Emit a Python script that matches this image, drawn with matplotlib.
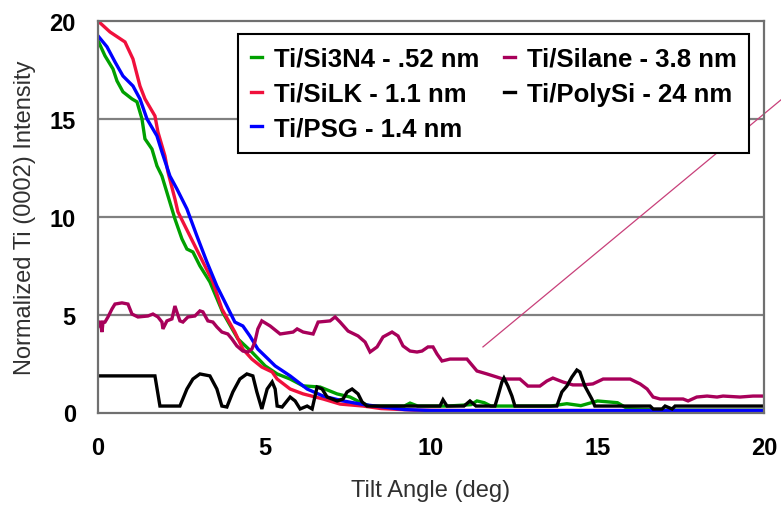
import matplotlib
matplotlib.use("Agg")
import matplotlib.pyplot as plt

# Tilt-angle scans, normalized Ti (0002) intensity
si3n4_x = [0, 0.21, 0.45, 0.57, 0.75, 1.02, 1.17, 1.32, 1.41, 1.62, 1.77, 1.92, 2.10, 2.31,
           2.52, 2.67, 2.85, 3.06, 3.36, 3.75, 4.20, 4.62, 5.02, 5.38, 5.77, 6.16, 6.67,
           7.18, 7.57, 7.9, 8.17, 8.6, 9.2, 9.37, 9.6, 10.5, 11.2, 11.38, 11.6, 11.8, 13.6,
           14.08, 14.5, 15.0, 15.6, 15.9, 17.0, 18.5, 20.0]
si3n4_y = [19.0, 18.22, 17.55, 16.94, 16.38, 16.02, 15.87, 15.0, 13.98, 13.46, 12.6, 12.08,
           11.07, 9.89, 8.87, 8.35, 8.20, 7.49, 6.67, 5.1, 3.76, 3.09, 2.38, 1.97, 1.71,
           1.36, 1.30, 0.95, 0.79, 0.5, 0.33, 0.33, 0.33, 0.48, 0.33, 0.33, 0.4, 0.59, 0.5,
           0.33, 0.33, 0.45, 0.35, 0.59, 0.5, 0.2, 0.12, 0.12, 0.12]

silk_x = [0, 0.36, 0.81, 1.05, 1.26, 1.41, 1.71, 1.80, 2.01, 2.10, 2.31, 2.40, 2.76, 3.06,
          3.45, 3.72, 4.11, 4.35, 4.62, 4.92, 5.23, 5.38, 5.77, 6.16, 6.76, 7.27, 7.96,
          8.5, 9.5, 11.0, 13.0, 15.0, 17.0, 20.0]
silk_y = [20.0, 19.44, 18.93, 18.06, 16.68, 16.02, 15.15, 14.33, 13.11, 12.29, 10.91, 10.25,
          9.02, 8.00, 6.67, 5.29, 4.11, 3.24, 2.73, 2.32, 2.07, 1.71, 1.20, 0.95, 0.69,
          0.43, 0.33, 0.2, 0.12, 0.1, 0.1, 0.1, 0.1, 0.1]

psg_x = [0, 0.27, 0.51, 0.75, 1.05, 1.26, 1.47, 1.77, 1.92, 2.16, 2.37, 2.67, 2.97, 3.27,
         3.57, 3.87, 4.11, 4.35, 4.56, 4.80, 5.11, 5.32, 5.77, 6.28, 6.76, 7.36, 8.0, 8.56,
         9.2, 10.0, 12.0, 14.0, 16.0, 18.0, 20.0]
psg_y = [19.24, 18.68, 17.91, 17.19, 16.68, 16.02, 15.0, 14.13, 13.31, 12.08, 11.42, 10.40,
         9.02, 7.69, 6.46, 5.44, 4.62, 4.42, 3.91, 3.24, 2.73, 2.38, 1.87, 1.20, 0.84, 0.59,
         0.4, 0.28, 0.15, 0.1, 0.1, 0.1, 0.1, 0.1, 0.1]

silane_x = [0, 0.06, 0.12, 0.15, 0.21, 0.30, 0.42, 0.51, 0.72, 0.90, 1.02, 1.20, 1.50, 1.65,
            1.80, 1.92, 1.95, 2.07, 2.22, 2.31, 2.37, 2.46, 2.55, 2.70, 2.91, 3.06, 3.15,
            3.30, 3.45, 3.57, 3.72, 3.90, 4.02, 4.17, 4.35, 4.50, 4.62, 4.71, 4.80, 4.92,
            5.17, 5.47, 5.86, 5.98, 6.16, 6.46, 6.61, 6.97, 7.12, 7.27, 7.51, 7.81, 8.02,
            8.17, 8.38, 8.56, 8.83, 9.01, 9.16, 9.37, 9.58, 9.73, 9.91, 10.06, 10.18, 10.33,
            10.57, 10.78, 11.08, 11.38, 11.68, 11.98, 12.16, 12.67, 12.91, 13.27, 13.48,
            13.66, 13.96, 14.26, 14.56, 14.86, 15.17, 15.98, 16.28, 16.49, 16.67, 16.88,
            17.57, 17.72, 17.98, 18.29, 18.59, 18.77, 19.28, 19.67, 20.0]
silane_y = [4.4, 4.68, 4.11, 4.62, 4.62, 4.88, 5.29, 5.54, 5.60, 5.54, 5.03, 4.88, 4.93, 5.03,
            4.88, 4.62, 4.27, 4.68, 4.78, 5.44, 5.13, 4.68, 4.62, 4.88, 4.93, 5.19, 5.14,
            4.68, 4.62, 4.37, 4.11, 4.01, 3.76, 3.40, 3.14, 3.09, 3.24, 3.60, 4.27, 4.68,
            4.42, 4.01, 4.11, 4.27, 4.11, 4.01, 4.62, 4.68, 4.88, 4.62, 4.16, 3.91, 3.60,
            3.09, 3.35, 3.86, 4.11, 3.91, 3.40, 3.14, 3.09, 3.14, 3.35, 3.35, 2.99, 2.63,
            2.73, 2.73, 2.73, 2.12, 1.97, 1.81, 1.71, 1.71, 1.35, 1.35, 1.61, 1.76, 1.56,
            1.41, 1.41, 1.46, 1.71, 1.71, 1.46, 1.20, 0.79, 0.69, 0.69, 0.59, 0.79, 0.84,
            0.79, 0.84, 0.79, 0.84, 0.84]

polysi_x = [0, 1.71, 1.86, 2.46, 2.67, 2.85, 3.06, 3.36, 3.57, 3.72, 3.87, 4.05, 4.26, 4.47,
            4.65, 4.77, 4.92, 5.08, 5.23, 5.32, 5.38, 5.53, 5.77, 5.92, 6.07, 6.28, 6.43,
            6.58, 6.73, 6.88, 7.18, 7.36, 7.48, 7.63, 7.81, 7.93, 8.08, 10.27, 10.36, 10.48,
            10.99, 11.17, 11.35, 11.92, 12.01, 12.13, 12.19, 12.31, 12.43, 12.52, 13.78,
            13.93, 14.08, 14.23, 14.38, 14.47, 14.62, 14.83, 14.92, 16.58, 16.67, 16.94,
            17.03, 17.24, 17.33, 20.0]
polysi_y = [1.87, 1.87, 0.33, 0.33, 1.20, 1.71, 1.97, 1.87, 1.20, 0.33, 0.28, 1.05, 1.71,
            1.97, 1.87, 1.05, 0.18, 1.20, 1.56, 1.20, 0.33, 0.28, 0.79, 0.59, 0.18, 0.33,
            0.18, 1.30, 1.20, 0.79, 0.59, 0.69, 1.05, 1.20, 0.95, 0.54, 0.33, 0.33, 0.65,
            0.33, 0.33, 0.59, 0.33, 0.33, 0.84, 1.56, 1.76, 1.35, 0.84, 0.33, 0.33, 1.05,
            1.35, 1.81, 2.17, 2.07, 1.35, 0.69, 0.33, 0.33, 0.18, 0.18, 0.33, 0.18, 0.33,
            0.33]

# straight guide line running off the right edge
guide_x = [11.56, 20.6]
guide_y = [3.35, 16.1]

series = [
    ("Ti/Si3N4 - .52 nm", si3n4_x, si3n4_y, "#00a000"),
    ("Ti/SiLK - 1.1 nm", silk_x, silk_y, "#f0103c"),
    ("Ti/PSG - 1.4 nm", psg_x, psg_y, "#0000ff"),
    ("Ti/Silane - 3.8 nm", silane_x, silane_y, "#a8005a"),
    ("Ti/PolySi - 24 nm", polysi_x, polysi_y, "#000000"),
]

x_ticks = [0, 5, 10, 15, 20]
y_ticks = [0, 5, 10, 15, 20]

plt.rcParams["font.family"] = ["Liberation Sans", "DejaVu Sans"]

fig = plt.figure(figsize=(7.81, 5.06), dpi=100)
ax = fig.add_axes([98 / 781, 1 - 413.5 / 506, 666 / 781, 391.5 / 506])

for label, xs, ys, color in series:
    ax.plot(xs, ys, color=color, lw=2.4, label=label, solid_joinstyle="miter")

ax.plot(guide_x, guide_y, color="#c8407a", lw=0.9, clip_on=False)

ax.set_xlim(0, 20)
ax.set_ylim(0, 20)
ax.set_xticks(x_ticks)
ax.set_yticks(y_ticks)
ax.set_xticklabels([str(t) for t in x_ticks], fontsize=17, fontweight="bold")
ax.set_yticklabels([str(t) for t in y_ticks], fontsize=17, fontweight="bold")
ax.tick_params(axis="both", length=0)
ax.tick_params(axis="x", pad=17)
ax.tick_params(axis="y", pad=16)

for yv in [5, 10, 15]:
    ax.axhline(yv, color="#808080", lw=1.6, zorder=0.5)

for side in ["left", "top", "right", "bottom"]:
    ax.spines[side].set_color("#707070")
    ax.spines[side].set_linewidth(1.6)

ax.set_xlabel("Tilt Angle (deg)", fontsize=17, color="#303030", labelpad=14)
ax.set_ylabel("Normalized Ti (0002) Intensity", fontsize=17, color="#303030", labelpad=10)

leg = ax.legend(loc="upper left", bbox_to_anchor=(0.21, 0.967), ncol=2, borderaxespad=0,
                fancybox=False, framealpha=1, edgecolor="#000000", handlelength=0.45,
                handletextpad=0.45, columnspacing=0.95, labelspacing=0.42, borderpad=0.5,
                prop={"weight": "bold", "size": 18.5})
leg.get_frame().set_linewidth(1.5)

fig.savefig("out.png", dpi=100)
